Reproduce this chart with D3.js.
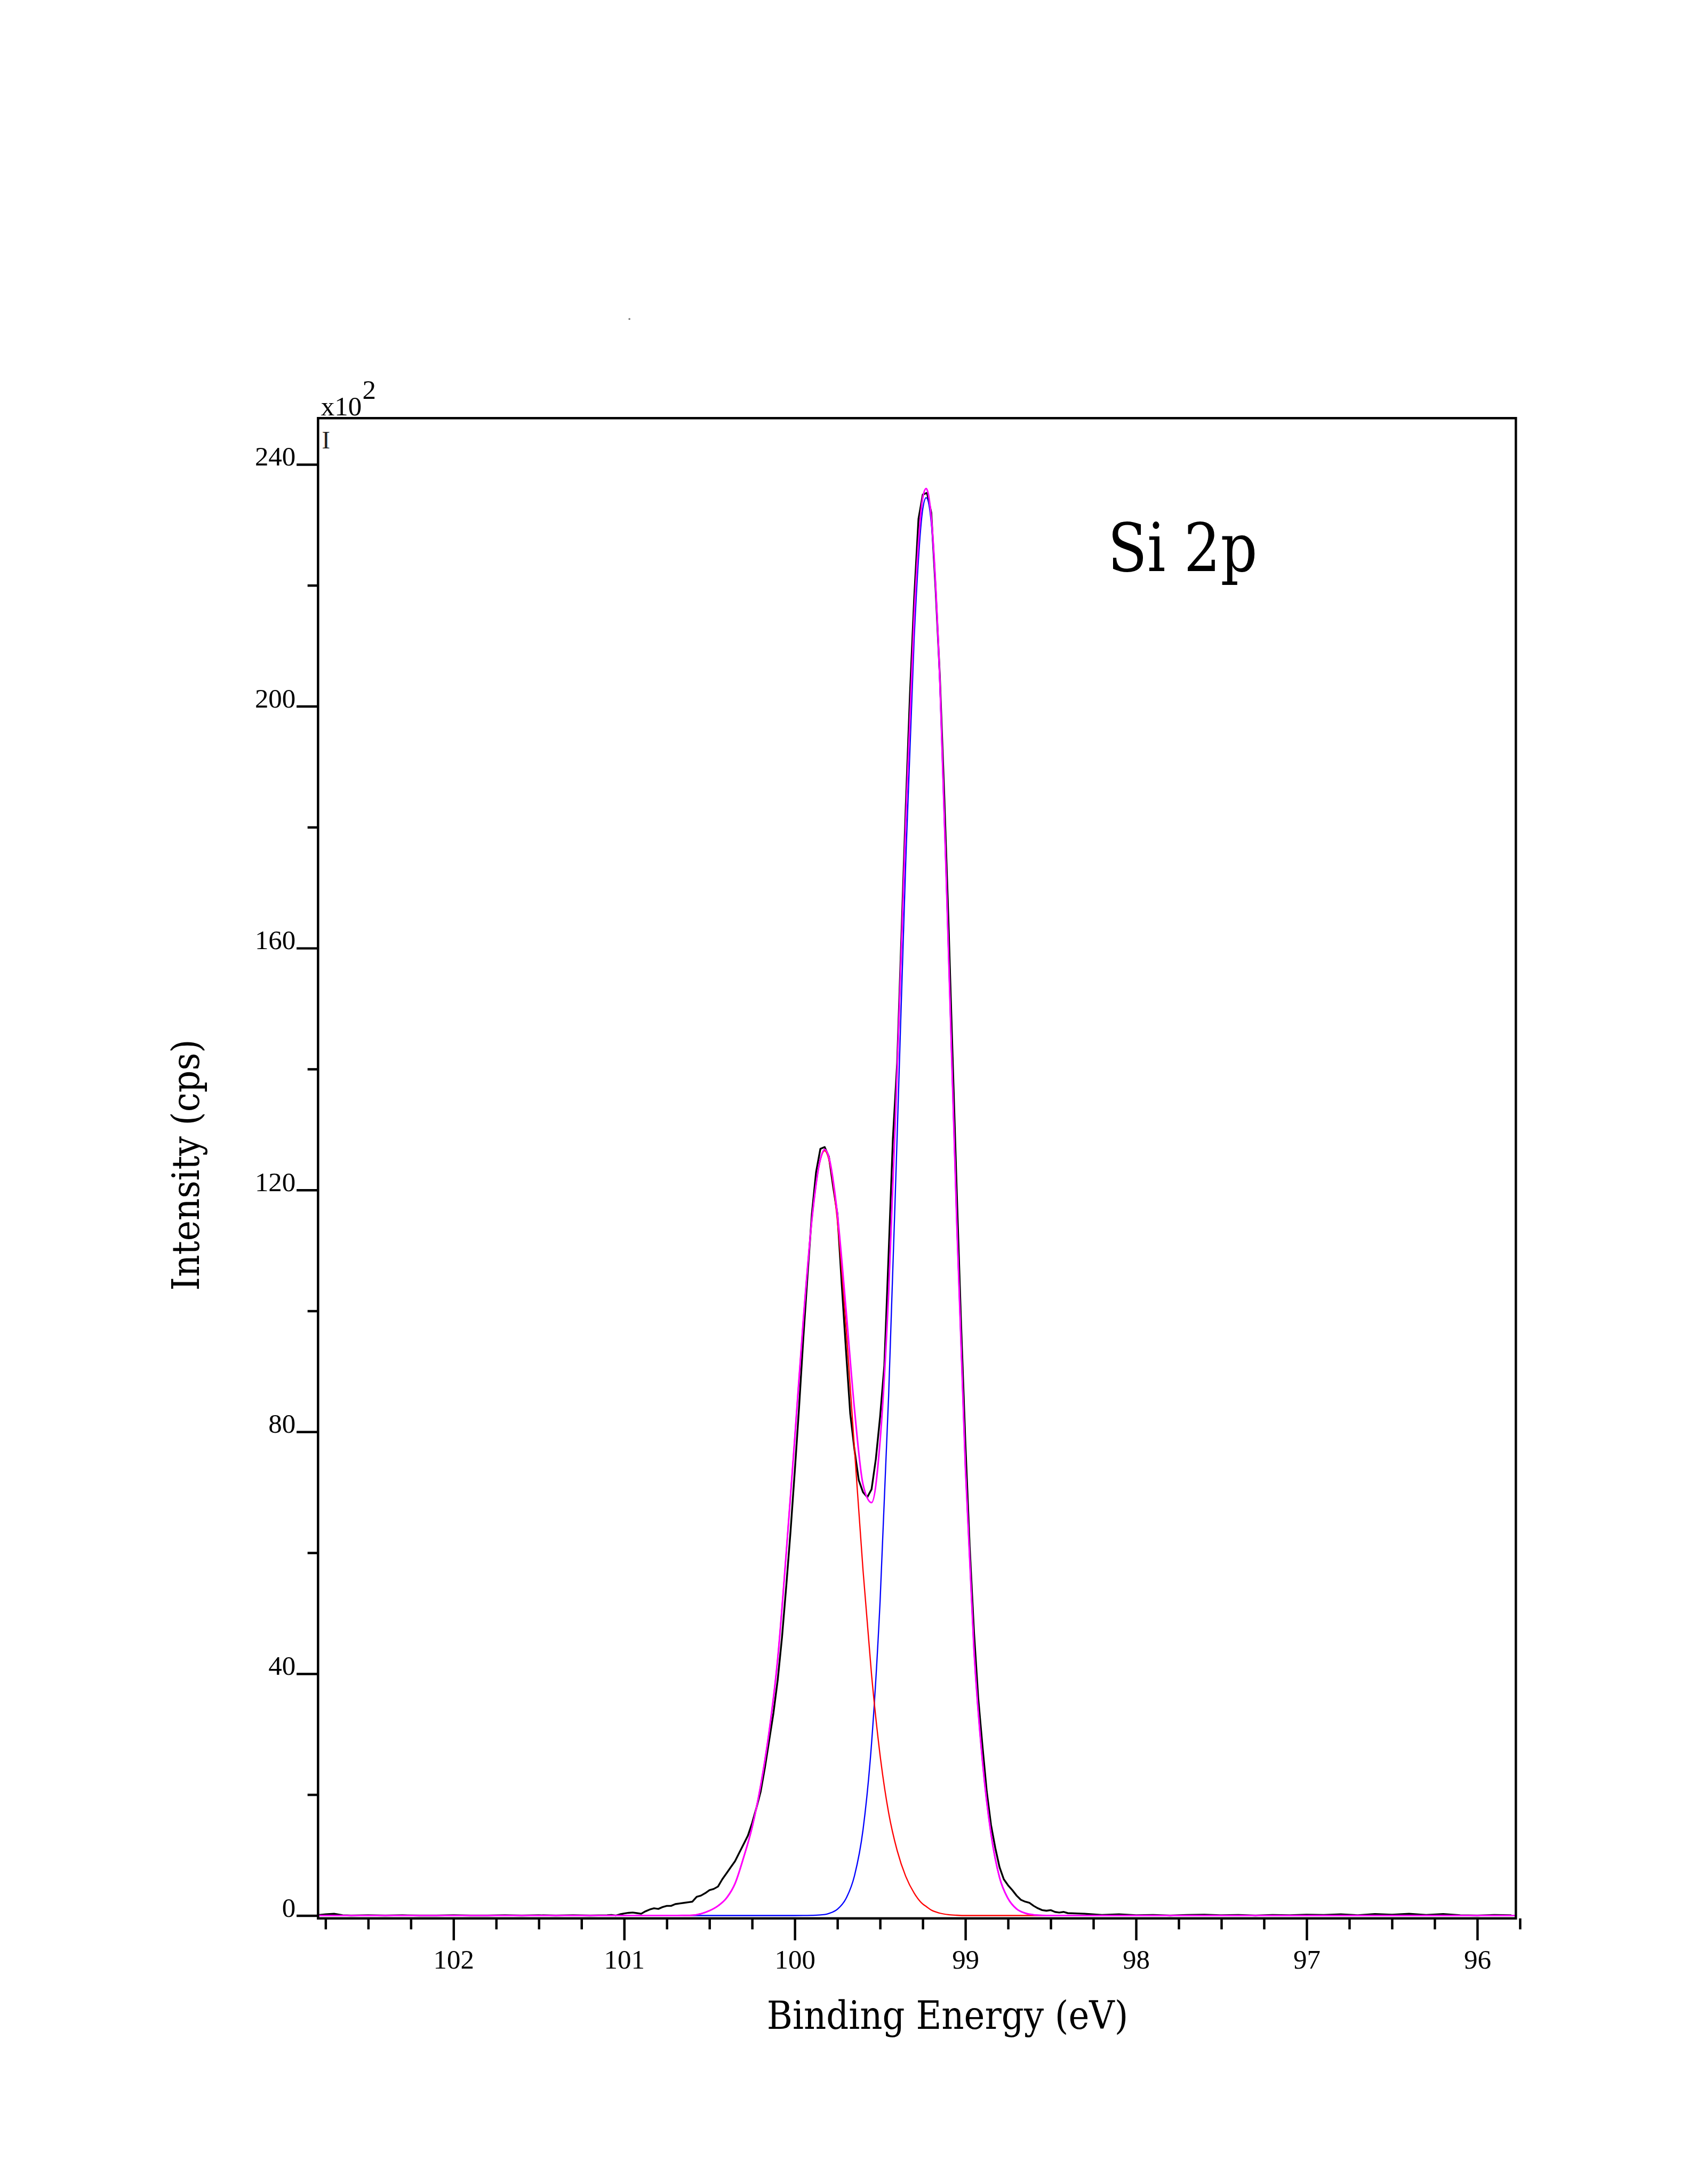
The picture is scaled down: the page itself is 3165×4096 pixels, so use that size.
<!DOCTYPE html>
<html>
<head>
<meta charset="utf-8">
<script src="https://cdn.jsdelivr.net/npm/d3@7"></script>
<style>
  body { margin: 0; background: #fff; }
  svg { display: block; }
</style>
</head>
<body>
<div id="chart"></div>
<script>
// measured Si 2p spectrum (black trace), binding energy in eV, counts in x10^2 cps
const spectrumEnergy = [
  102.80, 102.75, 102.70, 102.65, 102.60, 102.50, 102.40, 102.30, 102.20, 102.10,
  102.00, 101.90, 101.80, 101.70, 101.60, 101.50, 101.40, 101.30, 101.20,
  101.100, 101.075, 101.050, 101.025, 101.000, 100.975, 100.950, 100.925, 100.900, 100.875,
  100.850, 100.825, 100.800, 100.775, 100.750, 100.725, 100.700, 100.675, 100.650, 100.625,
  100.600, 100.575, 100.550, 100.525, 100.500, 100.475, 100.450, 100.425, 100.400, 100.375,
  100.350, 100.325, 100.300, 100.275, 100.250, 100.225, 100.200, 100.175, 100.150, 100.125,
  100.100, 100.075, 100.050, 100.025, 100.000, 99.975, 99.950, 99.925, 99.900, 99.875,
  99.850, 99.825, 99.800, 99.775, 99.750, 99.725, 99.700, 99.675, 99.650, 99.625,
  99.600, 99.575, 99.550, 99.525, 99.500, 99.475, 99.450, 99.425, 99.400, 99.375,
  99.350, 99.325, 99.300, 99.275, 99.250, 99.225, 99.200, 99.175, 99.150, 99.125,
  99.100, 99.075, 99.050, 99.025, 99.000, 98.975, 98.950, 98.925, 98.900, 98.875,
  98.850, 98.825, 98.800, 98.775, 98.750, 98.725, 98.700, 98.675, 98.650, 98.625,
  98.600, 98.575, 98.550, 98.525, 98.500, 98.475, 98.450, 98.425, 98.400,
  98.30, 98.20, 98.10, 98.00, 97.90, 97.80, 97.70, 97.60, 97.50, 97.40,
  97.30, 97.20, 97.10, 97.00, 96.90, 96.80, 96.70, 96.60, 96.50, 96.40,
  96.30, 96.20, 96.10, 96.00, 95.90, 95.80
];
const spectrumCounts = [
  0.05, 0.20, 0.30, 0.05, 0.00, 0.05, 0.00, 0.05, 0.00, 0.00,
  0.05, 0.00, 0.00, 0.05, 0.00, 0.05, 0.00, 0.05, 0.00,
  0.05, 0.10, 0.00, 0.20, 0.35, 0.45, 0.50, 0.40, 0.30, 0.70,
  1.00, 1.20, 1.10, 1.40, 1.60, 1.60, 1.90, 2.00, 2.10, 2.20,
  2.30, 3.10, 3.30, 3.70, 4.20, 4.40, 4.80, 6.00, 7.00, 8.00,
  9.00, 10.4, 11.8, 13.2, 15.3, 17.8, 20.5, 24.5, 29.0, 33.5,
  39.0, 46.0, 54.5, 63.5, 73.5, 84.0, 95.5, 106.0, 116.0, 123.0,
  126.8, 127.1, 125.5, 120.5, 116.0, 104.5, 93.5, 83.0, 77.0, 72.0,
  70.0, 69.2, 70.5, 75.5, 82.5, 91.0, 109.5, 128.5, 141.0, 162.0,
  183.0, 202.0, 218.0, 231.0, 235.0, 235.3, 232.0, 219.5, 205.0, 186.0,
  165.0, 142.0, 119.0, 97.5, 78.0, 61.0, 47.0, 36.0, 28.0, 20.5,
  15.0, 11.2, 8.0, 6.0, 5.0, 4.2, 3.3, 2.6, 2.3, 2.1,
  1.6, 1.2, 0.9, 0.8, 0.9, 0.6, 0.5, 0.6, 0.4,
  0.30, 0.10, 0.20, 0.05, 0.10, 0.00, 0.10, 0.15, 0.05, 0.10,
  0.00, 0.10, 0.05, 0.15, 0.10, 0.20, 0.05, 0.25, 0.15, 0.30,
  0.10, 0.25, 0.05, 0.00, 0.10, 0.05
];

// peak fit: energies shared by the components and the envelope
const fitEnergy = [
  102.80, 100.70, 100.65, 100.60, 100.55, 100.50, 100.45, 100.40, 100.35, 100.30,
  100.25, 100.20, 100.15, 100.10, 100.05, 100.00, 99.95, 99.90, 99.85, 99.825,
  99.80, 99.75, 99.70, 99.65, 99.60, 99.55, 99.50, 99.45, 99.40, 99.35,
  99.30, 99.25, 99.23, 99.20, 99.15, 99.10, 99.05, 99.00, 98.95, 98.90,
  98.85, 98.80, 98.75, 98.70, 98.65, 98.60, 98.55, 98.50, 95.78
];
// red component (higher binding energy)
const fitRed = [
  0, 0, 0.02, 0.05, 0.3, 0.8, 1.6, 2.9, 5.3, 9.6,
  14.6, 21.5, 30.5, 42.5, 60.0, 79.0, 98.5, 115.0, 125.0, 126.5,
  125.0, 114.8, 97.5, 77.1, 57.1, 39.8, 26.5, 17.0, 10.75, 6.5,
  3.7, 1.9, 1.5, 0.9, 0.4, 0.15, 0.05, 0, 0, 0,
  0, 0, 0, 0, 0, 0, 0, 0, 0
];
// blue component (lower binding energy)
const fitBlue = [
  0, 0, 0, 0, 0, 0, 0, 0, 0, 0,
  0, 0, 0, 0, 0, 0, 0.01, 0.03, 0.11, 0.17,
  0.35, 1.05, 2.8, 6.6, 14.2, 28.5, 52.0, 86.0, 129.0, 174.0,
  211.5, 232.6, 234.5, 230.3, 204.0, 160.0, 114.0, 74.0, 44.0, 25.5,
  13.5, 6.3, 2.8, 1.1, 0.4, 0.12, 0.03, 0, 0
];
// magenta envelope
const fitEnvelope = [
  0, 0, 0.02, 0.05, 0.3, 0.8, 1.6, 2.9, 5.3, 9.6,
  14.6, 21.5, 30.5, 42.5, 60.0, 79.0, 98.5, 115.0, 125.1, 126.7,
  125.4, 115.9, 100.3, 83.7, 71.3, 68.3, 78.5, 103.0, 139.8, 180.5,
  215.2, 234.5, 236.0, 231.2, 204.4, 160.2, 114.1, 74.0, 44.0, 25.5,
  13.5, 6.3, 2.8, 1.1, 0.4, 0.12, 0.03, 0, 0
];

const xTickValues = [102, 101, 100, 99, 98, 97, 96];
const yTickValues = [0, 40, 80, 120, 160, 200, 240];
const yMinorValues = [20, 60, 100, 140, 180, 220];

// drawing is done in the reference's pixel space, the viewBox shrinks it to the window
const W = 3540, H = 4581;
const frame = { left: 667, right: 3179, top: 877, bottom: 4024 };
const serif = '"Liberation Serif", "Times New Roman", serif';
const titleFont = '"DejaVu Serif", serif';

const svg = d3.select('#chart')
  .append('svg')
  .attr('width', 3165)
  .attr('height', 4096)
  .attr('viewBox', `0 0 ${W} ${H}`);

svg.append('rect').attr('width', W).attr('height', H).attr('fill', '#fff');

const x = d3.scaleLinear()
  .domain([102.794, 95.774])
  .range([frame.left, frame.right]);

const y = d3.scaleLinear()
  .domain([-0.47, 247.65])
  .range([frame.bottom, frame.top]);

svg.append('clipPath').attr('id', 'plot-clip')
  .append('rect')
  .attr('x', frame.left)
  .attr('y', frame.top)
  .attr('width', frame.right - frame.left)
  .attr('height', frame.bottom - frame.top);

const plot = svg.append('g').attr('clip-path', 'url(#plot-clip)');

const linear = d3.line().x(d => x(d[0])).y(d => y(d[1]));
const smooth = d3.line().x(d => x(d[0])).y(d => y(d[1])).curve(d3.curveMonotoneX);

const spectrum = spectrumEnergy.map((e, i) => [e, spectrumCounts[i]]);
const asPairs = vals => fitEnergy.map((e, i) => [e, vals[i]]);

plot.append('path')
  .datum(spectrum)
  .attr('fill', 'none')
  .attr('stroke', '#000')
  .attr('stroke-width', 3.8)
  .attr('stroke-linejoin', 'round')
  .attr('d', linear);

plot.append('path')
  .datum(asPairs(fitBlue))
  .attr('fill', 'none')
  .attr('stroke', '#0000ff')
  .attr('stroke-width', 2.6)
  .attr('d', smooth);

plot.append('path')
  .datum(asPairs(fitRed))
  .attr('fill', 'none')
  .attr('stroke', '#ff0000')
  .attr('stroke-width', 2.6)
  .attr('d', smooth);

plot.append('path')
  .datum(asPairs(fitEnvelope))
  .attr('fill', 'none')
  .attr('stroke', '#ff00ff')
  .attr('stroke-width', 3.4)
  .attr('d', smooth);

// x axis: labelled ticks every eV, minor every 0.25 eV
const xMinor = d3.range(102.75, 95.7, -0.25).filter(v => Math.abs(v - Math.round(v)) > 0.01);

const gxMinor = svg.append('g')
  .attr('transform', `translate(0,${frame.bottom})`)
  .call(d3.axisBottom(x).tickValues(xMinor).tickSize(23).tickFormat(''));

const gx = svg.append('g')
  .attr('transform', `translate(0,${frame.bottom})`)
  .call(d3.axisBottom(x).tickValues(xTickValues).tickSize(46).tickFormat(d3.format('d')));

gx.selectAll('text').attr('y', 105).attr('dy', 0);

// y axis
const gyMinor = svg.append('g')
  .attr('transform', `translate(${frame.left},0)`)
  .call(d3.axisLeft(y).tickValues(yMinorValues).tickSize(22).tickFormat(''));

const gy = svg.append('g')
  .attr('transform', `translate(${frame.left},0)`)
  .call(d3.axisLeft(y).tickValues(yTickValues).tickSize(45).tickFormat(d3.format('d')));

gy.selectAll('text').attr('x', -47).attr('dy', '0.03em');

[gx, gxMinor, gy, gyMinor].forEach(g => {
  g.select('.domain').remove();
  g.attr('font-family', serif).attr('font-size', 57);
  g.selectAll('line').attr('stroke', '#000').attr('stroke-width', 5);
  g.selectAll('text').attr('fill', '#000');
});

// frame
svg.append('rect')
  .attr('x', frame.left)
  .attr('y', frame.top)
  .attr('width', frame.right - frame.left)
  .attr('height', frame.bottom - frame.top)
  .attr('fill', 'none')
  .attr('stroke', '#000')
  .attr('stroke-width', 5);

// multiplier above the y axis
svg.append('text')
  .attr('x', 673)
  .attr('y', 871)
  .attr('font-family', serif)
  .attr('font-size', 57)
  .text('x10');

svg.append('text')
  .attr('x', 760)
  .attr('y', 837)
  .attr('font-family', serif)
  .attr('font-size', 57)
  .text('2');

svg.append('text')
  .attr('x', 675)
  .attr('y', 940)
  .attr('font-family', serif)
  .attr('font-size', 52)
  .attr('fill', '#222')
  .text('I');

svg.append('circle')
  .attr('cx', 1320)
  .attr('cy', 669)
  .attr('r', 2)
  .attr('fill', '#777');

// labels
svg.append('text')
  .attr('x', 2323)
  .attr('y', 1198)
  .attr('font-family', titleFont)
  .attr('font-size', 141)
  .attr('textLength', 314)
  .attr('lengthAdjust', 'spacingAndGlyphs')
  .text('Si 2p');

svg.append('text')
  .attr('x', 1608)
  .attr('y', 4256)
  .attr('font-family', titleFont)
  .attr('font-size', 81)
  .attr('textLength', 758)
  .attr('lengthAdjust', 'spacingAndGlyphs')
  .text('Binding Energy (eV)');

svg.append('text')
  .attr('transform', 'translate(417,2707) rotate(-90)')
  .attr('font-family', titleFont)
  .attr('font-size', 80)
  .attr('textLength', 527)
  .attr('lengthAdjust', 'spacingAndGlyphs')
  .text('Intensity (cps)');
</script>
</body>
</html>
